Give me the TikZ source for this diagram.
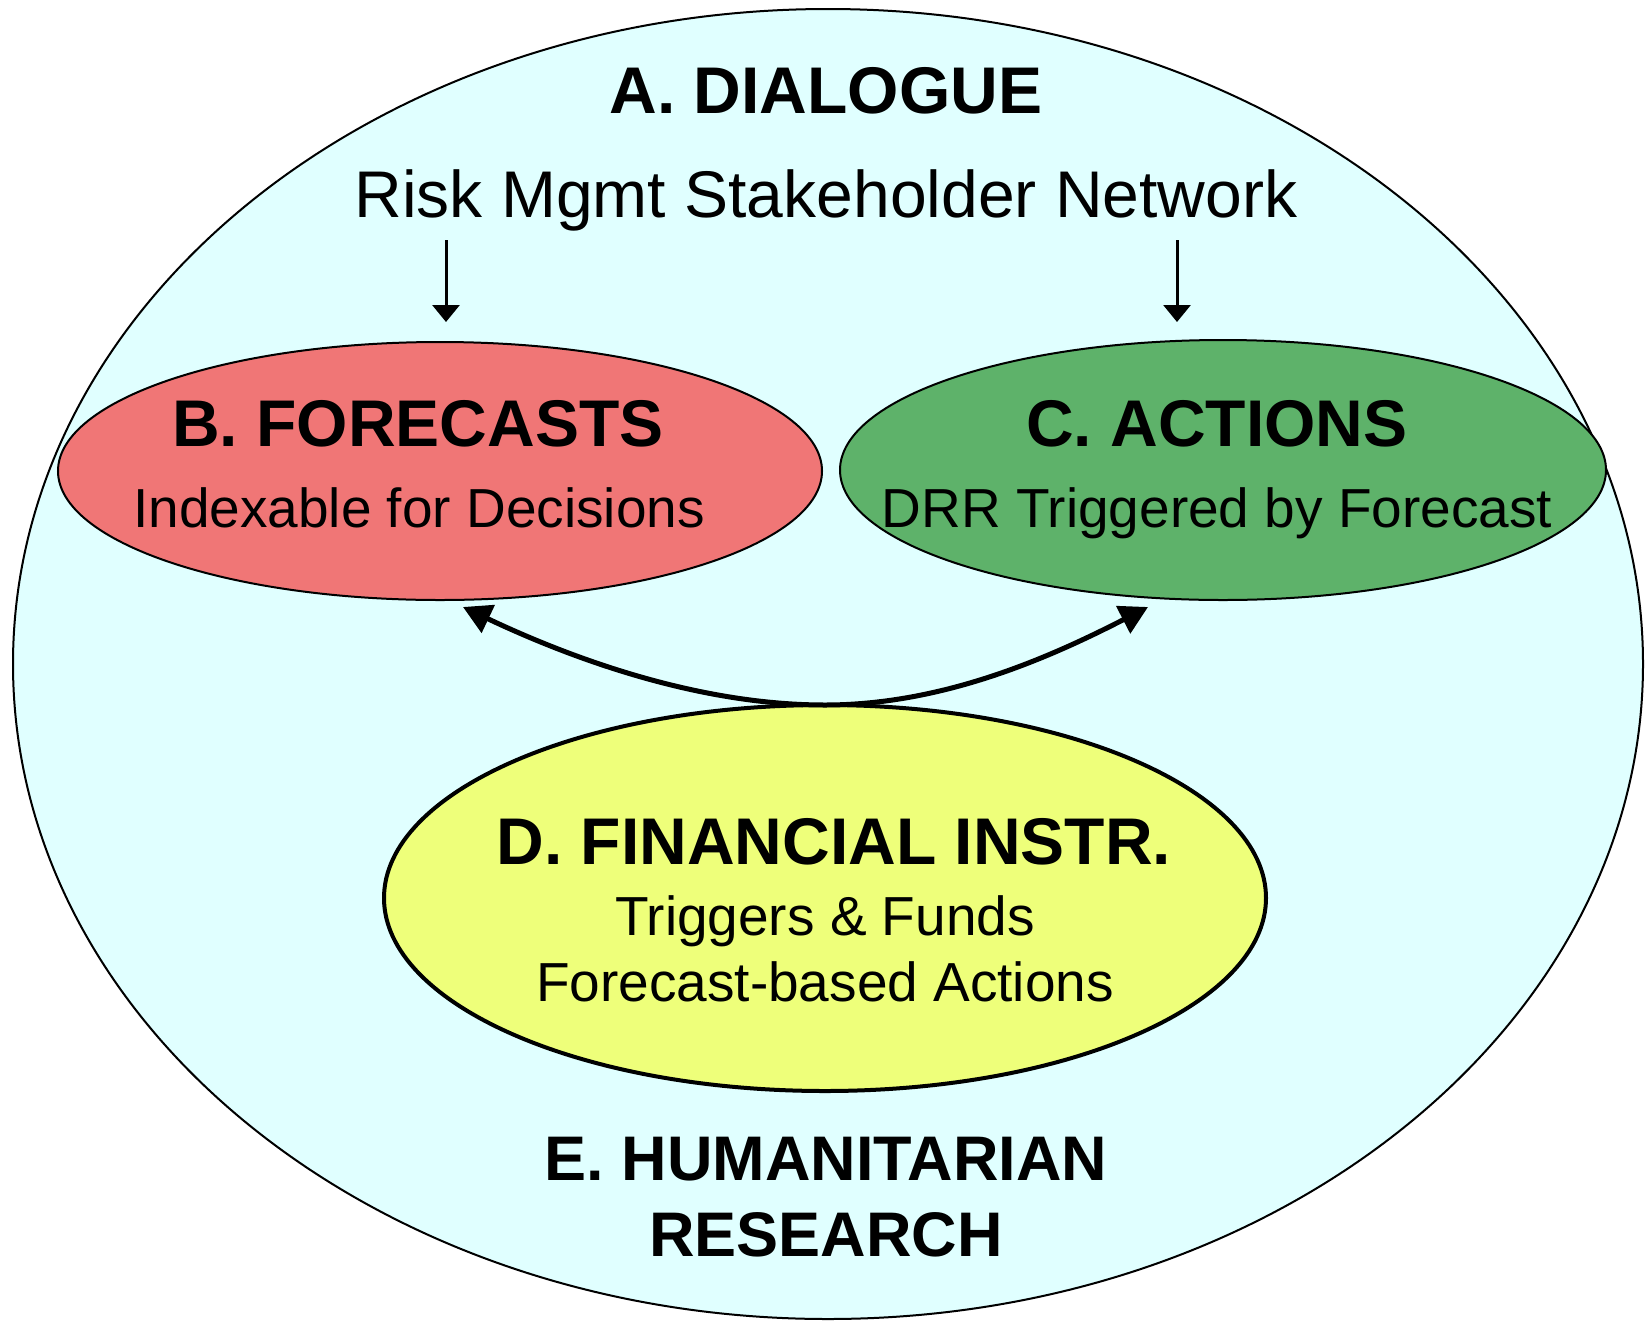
\documentclass[tikz,border=0pt]{standalone}
\usepackage{fontspec}
\setmainfont{Liberation Sans}
\usetikzlibrary{arrows.meta,shapes.geometric}
\definecolor{bgcyan}{RGB}{224,255,255}
\definecolor{fcred}{RGB}{240,118,118}
\definecolor{actgreen}{RGB}{94,178,106}
\definecolor{finyellow}{RGB}{238,255,122}
\tikzset{
  oval/.style={ellipse, draw=black, inner sep=0pt, outer sep=0pt},
  titletext/.style={anchor=base, inner sep=0pt, font=\fontsize{66}{79}\selectfont\bfseries},
  subtext/.style={anchor=base, inner sep=0pt, font=\fontsize{55}{66}\selectfont},
  downarrow/.style={line width=3pt, -{Triangle[length=17pt,width=27pt]}},
  curvearrow/.style={line width=5pt, -{Triangle[length=28pt,width=30pt]}}
}
\begin{document}
\begin{tikzpicture}[x=1pt,y=-1pt]
\useasboundingbox (0,0) rectangle (1652,1323);
\fill[white] (0,0) rectangle (1652,1323);
\node[oval, fill=bgcyan, line width=2pt, minimum width=1630pt, minimum height=1310pt] (outer) at (828,664) {};
\node[oval, fill=fcred, line width=2pt, minimum width=764pt, minimum height=258pt] (fc) at (440,471) {};
\node[oval, fill=actgreen, line width=2pt, minimum width=766pt, minimum height=260pt] (act) at (1223,470) {};
\node[oval, fill=finyellow, line width=4pt, minimum width=882pt, minimum height=386pt] (fin) at (825,898) {};

\node[titletext] (tA) at (826,113) {A. DIALOGUE};
\node[anchor=base, inner sep=0pt, font=\fontsize{66}{79}\selectfont] (tRisk) at (826,217) {Risk Mgmt Stakeholder Network};
\node[titletext] (tB) at (418,446) {B. FORECASTS};
\node[subtext] (sB) at (419,527) {Indexable for Decisions};
\node[titletext] (tC) at (1217,446) {C. ACTIONS};
\node[subtext] (sC) at (1217,527) {DRR Triggered by Forecast};
\node[titletext] (tD) at (834,864) {D. FINANCIAL INSTR.};
\node[subtext] (sD1) at (825,935) {Triggers \& Funds};
\node[subtext] (sD2) at (825,1001) {Forecast-based Actions};
\node[titletext, font=\fontsize{63}{76}\selectfont\bfseries] (tE1) at (826,1180) {E. HUMANITARIAN};
\node[titletext, font=\fontsize{63}{76}\selectfont\bfseries] (tE2) at (826,1256) {RESEARCH};

\coordinate (aLs) at (446,240);
\coordinate (aLe) at (446,322);
\coordinate (aRs) at (1177,240);
\coordinate (aRe) at (1177,322);
\draw[downarrow] (aLs) -- (aLe);
\draw[downarrow] (aRs) -- (aRe);

\coordinate (tipB) at (463,607);
\coordinate (tipC) at (1148,607);
\draw[curvearrow] (fin.north) .. controls (700,705) and (575,660) .. (tipB);
\draw[curvearrow] (fin.north) .. controls (940,705) and (1045,660) .. (tipC);
\end{tikzpicture}
\end{document}
